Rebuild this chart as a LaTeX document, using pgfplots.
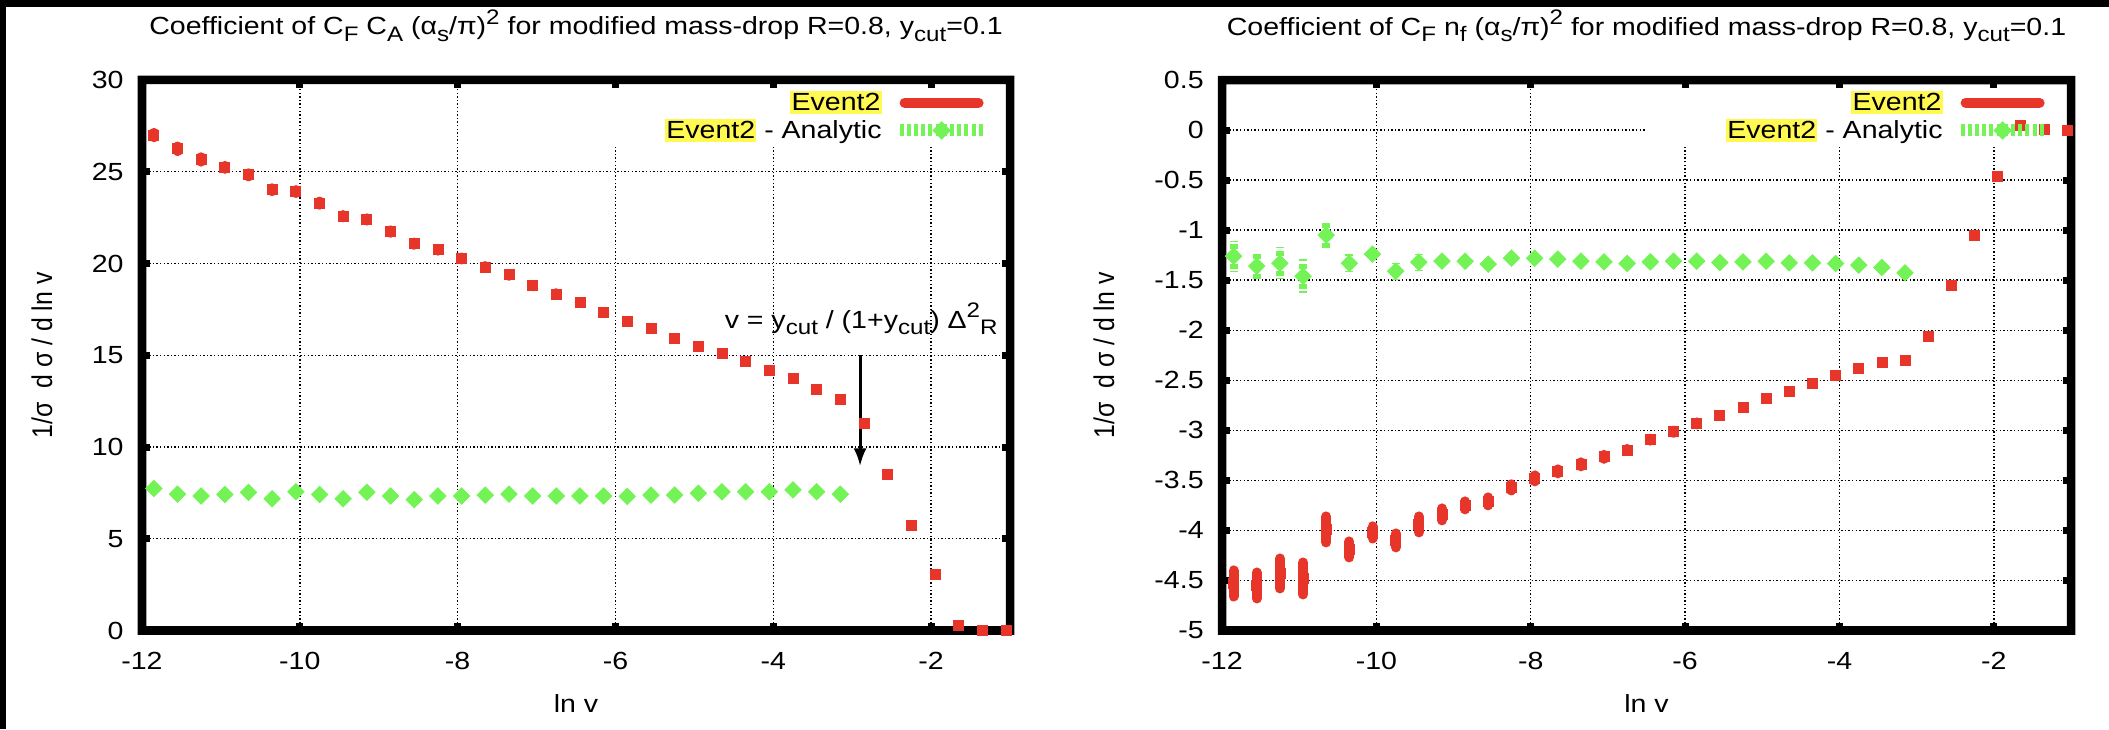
\documentclass[border=0pt]{standalone}
\usepackage{fontspec}
\setmainfont{Liberation Sans}[FakeStretch=1.15]
\newfontfamily\plainfont{Liberation Sans}
\usepackage{graphicx}
\usepackage{pgfplots}
\usepackage{pgfplotstable}
\pgfplotsset{compat=1.18}
\usetikzlibrary{arrows.meta}
\definecolor{evred}{HTML}{E8352A}
\definecolor{angreen}{HTML}{74F356}
\definecolor{hl}{HTML}{FFF952}
\newcommand\gsub[1]{\raisebox{-3.3pt}{\fontsize{10.5}{12}\selectfont #1}}
\newcommand\gsup[1]{\raisebox{5.2pt}{\fontsize{10.5}{12}\selectfont #1}}
\newcommand\hl[1]{{\setlength\fboxsep{0.6pt}\colorbox{hl}{\rule[-1.3pt]{0pt}{10.2pt}#1}}}

% C_F C_A coefficient
\pgfplotstableread{
x y e
-11.85 27.00 0.12
-11.55 26.25 0.12
-11.25 25.67 0.12
-10.95 25.24 0.08
-10.65 24.83 0.08
-10.35 24.02 0.08
-10.05 23.92 0.08
-9.75 23.29 0.08
-9.45 22.58 0.06
-9.15 22.40 0.06
-8.85 21.74 0.06
-8.55 21.08 0.06
-8.25 20.75 0.05
-7.95 20.27 0.05
-7.65 19.81 0.05
-7.35 19.38 0.05
-7.05 18.80 0.04
-6.75 18.34 0.04
-6.45 17.86 0
-6.15 17.35 0
-5.85 16.87 0
-5.55 16.44 0
-5.25 15.93 0
-4.95 15.50 0
-4.65 15.10 0
-4.35 14.64 0
-4.05 14.16 0
-3.75 13.73 0
-3.45 13.14 0
-3.15 12.58 0
-2.85 11.30 0
-2.55 8.52 0
-2.25 5.75 0
-1.95 3.08 0
-1.65 0.26 0
-1.35 0.00 0
-1.05 0.00 0
}\redA
\pgfplotstableread{
x y e
-11.85 7.74 0.15
-11.55 7.43 0.08
-11.25 7.33 0.06
-10.95 7.41 0.06
-10.65 7.53 0.06
-10.35 7.18 0
-10.05 7.56 0
-9.75 7.41 0
-9.45 7.18 0
-9.15 7.53 0
-8.85 7.33 0
-8.55 7.13 0
-8.25 7.33 0
-7.95 7.33 0
-7.65 7.38 0
-7.35 7.43 0
-7.05 7.33 0
-6.75 7.33 0
-6.45 7.33 0
-6.15 7.33 0
-5.85 7.31 0
-5.55 7.38 0
-5.25 7.38 0
-4.95 7.48 0
-4.65 7.56 0
-4.35 7.56 0
-4.05 7.56 0
-3.75 7.66 0
-3.45 7.56 0
-3.15 7.43 0
}\greenA

% C_F n_f coefficient
\pgfplotstableread{
x y e
-11.85 -4.53 0.13
-11.55 -4.55 0.13
-11.25 -4.43 0.15
-10.95 -4.48 0.16
-10.65 -3.99 0.13
-10.35 -4.19 0.08
-10.05 -4.02 0.06
-9.75 -4.10 0.07
-9.45 -3.94 0.08
-9.15 -3.84 0.06
-8.85 -3.75 0.04
-8.55 -3.71 0.04
-8.25 -3.57 0.03
-7.95 -3.48 0.03
-7.65 -3.41 0.02
-7.35 -3.34 0.02
-7.05 -3.265 0.02
-6.75 -3.196 0.01
-6.45 -3.093 0.01
-6.15 -3.014 0.01
-5.85 -2.931 0.01
-5.55 -2.852 0
-5.25 -2.768 0
-4.95 -2.684 0
-4.65 -2.610 0
-4.35 -2.531 0
-4.05 -2.452 0
-3.75 -2.382 0
-3.45 -2.326 0
-3.15 -2.298 0
-2.85 -2.066 0
-2.55 -1.553 0
-2.25 -1.057 0
-1.95 -0.467 0
-1.65 0.044 0
-1.35 0.005 0
-1.05 0.000 0
}\redB
\pgfplotstableread{
x y e
-11.85 -1.26 0.15
-11.55 -1.36 0.14
-11.25 -1.33 0.16
-10.95 -1.46 0.17
-10.65 -1.05 0.13
-10.35 -1.33 0.09
-10.05 -1.24 0.06
-9.75 -1.41 0.08
-9.45 -1.32 0.08
-9.15 -1.31 0.07
-8.85 -1.31 0.05
-8.55 -1.34 0.05
-8.25 -1.28 0.04
-7.95 -1.28 0.03
-7.65 -1.29 0.03
-7.35 -1.31 0.02
-7.05 -1.317 0.02
-6.75 -1.333 0.01
-6.45 -1.317 0
-6.15 -1.310 0
-5.85 -1.310 0
-5.55 -1.323 0
-5.25 -1.317 0
-4.95 -1.310 0
-4.65 -1.327 0
-4.35 -1.327 0
-4.05 -1.333 0
-3.75 -1.350 0
-3.45 -1.373 0
-3.15 -1.427 0
}\greenB

\pgfplotsset{
  gp/.style={
    scale only axis, height=275.25pt,
    xmin=-12, xmax=-1, xtick={-12,-10,...,-2},
    clip=false,
    axis line style={draw=black, solid, line width=4.25pt},
    every tick/.style={draw=black, solid, line width=3.5pt},
    major tick length=4pt,
    tick align=inside,
    grid=major,
    major grid style={draw=black, line width=0.7pt, dash pattern=on 0.7pt off 1.1pt},
    /pgf/number format/assume math mode=true,
    yticklabel style={anchor=east, inner sep=0pt, xshift=-9pt},
    xticklabel style={anchor=north, inner sep=0pt, yshift=-10.75pt},
    title style={at={(0.5,1)}, anchor=base, yshift=16.5pt, inner sep=0pt},
    xlabel={ln v},
    xlabel style={at={(axis description cs:0.5,-0.1335)}, anchor=center, inner sep=0pt},
    ylabel={\scalebox{1}[1.15]{\plainfont 1/σ\ \ d σ / d ln v}},
    legend style={draw=none, fill=none, at={(1,1)}, anchor=north east,
      xshift=-10pt, yshift=-5.5pt, inner sep=0pt, row sep=2.5pt,
      nodes={inner sep=0pt}, column sep=6pt},
    legend cell align=right,
    legend plot pos=right,
  },
  boxline/.style={forget plot, no marks, solid, draw=black, line width=4.25pt, line join=miter},
  redpts/.style={only marks, mark=square*, mark size=2.5pt, color=evred,
    legend image code/.code={\draw[evred, solid, line width=5pt, line cap=round] (2.5pt,0pt) -- (39.5pt,0pt);},
    error bars/.cd, y dir=both, y explicit, error mark=none,
    error bar style={solid, line width=5pt, line cap=round, evred}},
  greenpts/.style={only marks, mark=square*, mark size=2.9pt, mark options={rotate=45}, color=angreen,
    legend image code/.code={
      \draw[angreen, line width=6pt, dash pattern=on 2pt off 1.6pt] (0pt,0pt) -- (42pt,0pt);
      \fill[angreen] (21pt,4.3pt) -- (25.3pt,0pt) -- (21pt,-4.3pt) -- (16.7pt,0pt) -- cycle;},
    error bars/.cd, y dir=both, y explicit, error mark=none,
    error bar style={line width=4pt, dash pattern=on 2.5pt off 1.2pt, angreen}},
}

\begin{document}
\fontsize{12.4}{14.5}\selectfont
\begin{tikzpicture}
\useasboundingbox (0,0) rectangle (1054.5pt,364.5pt);
\fill[black] (0pt,361.15pt) rectangle (1054.5pt,364.5pt);
\fill[black] (0pt,0pt) rectangle (3pt,364.5pt);

\begin{axis}[gp, width=434pt, at={(71pt,49.25pt)}, anchor=south west,
  ymin=0, ymax=30, ytick={0,5,...,30},
  ylabel style={at={(axis description cs:-0.1152,0.5)}, anchor=center, inner sep=0pt},
  title={Coefficient of C\gsub{F} C\gsub{A} (α\gsub{s}/π)\gsup{2} for modified mass-drop R=0.8, y\gsub{cut}=0.1},
]
% frame: four strips, 4.25pt wide, centred on the axis box
\fill[black]
  (axis cs:-12.0539,-0.2316) rectangle (axis cs:-11.9461,30.2316)
  (axis cs:-1.0539,-0.2316) rectangle (axis cs:-0.9461,30.2316)
  (axis cs:-12.0539,-0.2316) rectangle (axis cs:-0.9461,0.2316)
  (axis cs:-12.0539,29.7684) rectangle (axis cs:-0.9461,30.2316);
\addplot[boxline] coordinates {(-12,0) (-1,0) (-1,30) (-12,30) (-12,0)} -- cycle;
\fill[white] (axis cs:-6.4,26.4) rectangle (axis cs:-1.06,29.55);
\addplot[redpts] table[x=x, y=y, y error=e] {\redA};
\addlegendentry{\hl{Event2}}
\addplot[greenpts] table[x=x, y=y, y error=e] {\greenA};
\addlegendentry{\hl{Event2} - Analytic}
\draw[solid, line width=1.5pt, -{Latex[length=9pt,width=6.5pt]}] (axis cs:-2.9,15) -- (axis cs:-2.9,8.95);
\node[anchor=base west, inner sep=0pt] at (axis cs:-4.62,16.47)
  {v = y\gsub{cut} / (1+y\gsub{cut}) Δ\gsup{2}\gsub{R}};
\end{axis}

\begin{axis}[gp, width=424.5pt, at={(611pt,49.25pt)}, anchor=south west,
  ymin=-5, ymax=0.5, ytick={-5,-4.5,...,0.5},
  ylabel style={at={(axis description cs:-0.139,0.5)}, anchor=center, inner sep=0pt},
  title={Coefficient of C\gsub{F} n\gsub{f} (α\gsub{s}/π)\gsup{2} for modified mass-drop R=0.8, y\gsub{cut}=0.1},
]
\fill[black]
  (axis cs:-12.0551,-5.0425) rectangle (axis cs:-11.9449,0.5425)
  (axis cs:-1.0551,-5.0425) rectangle (axis cs:-0.9449,0.5425)
  (axis cs:-12.0551,-5.0425) rectangle (axis cs:-0.9449,-4.9575)
  (axis cs:-12.0551,0.4575) rectangle (axis cs:-0.9449,0.5425);
\addplot[boxline] coordinates {(-12,-5) (-1,-5) (-1,0.5) (-12,0.5) (-12,-5)} -- cycle;
\fill[white] (axis cs:-6.52,-0.16) rectangle (axis cs:-1.06,0.42);
\addplot[redpts] table[x=x, y=y, y error=e] {\redB};
\addlegendentry{\hl{Event2}}
\addplot[greenpts] table[x=x, y=y, y error=e] {\greenB};
\addlegendentry{\hl{Event2} - Analytic}
\end{axis}
\end{tikzpicture}
\end{document}
